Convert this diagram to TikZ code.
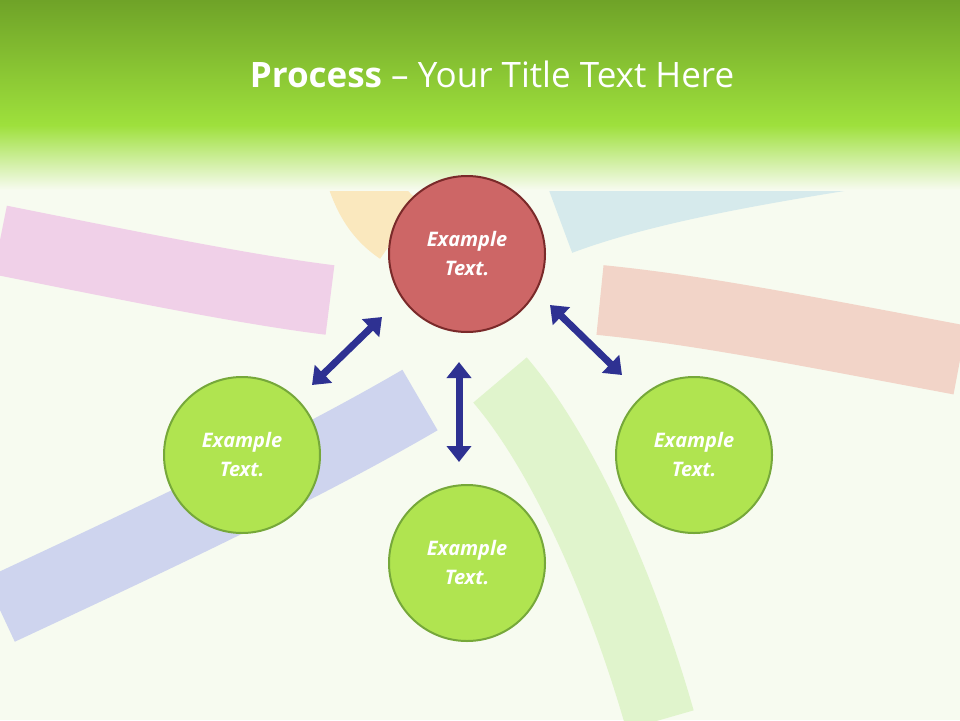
\documentclass[tikz,border=0pt]{standalone}
\usepackage{fontspec}
\setmainfont{Open Sans}
\usetikzlibrary{arrows.meta}
\definecolor{navy}{HTML}{2E3192}
\definecolor{gfill}{HTML}{B0E450}
\definecolor{gline}{HTML}{76A83A}
\definecolor{rfill}{HTML}{CD6666}
\definecolor{rline}{HTML}{7A2A2A}
\definecolor{bgc}{HTML}{F7FBF0}
\definecolor{topg}{HTML}{6FA328}
\definecolor{midg}{HTML}{9EE03C}
\tikzset{
  bg/.style={line width=70pt, line cap=butt},
  gcirc/.style={circle, minimum size=156pt, fill=gfill, draw=gline, line width=2pt, text=white, align=center, font=\bfseries\itshape\fontsize{20}{29}\selectfont},
  rcirc/.style={gcirc, fill=rfill, draw=rline},
  dbl/.style={navy, line width=7pt, {Triangle[length=16pt,width=24pt]}-{Triangle[length=16pt,width=24pt]}}
}
\begin{document}
\begin{tikzpicture}[x=1pt,y=-1pt]
\useasboundingbox (0,0) rectangle (960,720);
\fill[bgc] (0,0) rectangle (960,720);
% background arrows
\draw[bg, color={rgb,255:red,240;green,208;blue,232}] (0,240) .. controls (150,270) and (250,290) .. (330,300);
\draw[bg, color={rgb,255:red,250;green,232;blue,190}] (350,130) .. controls (360,180) and (370,210) .. (400,230);
\draw[bg, color={rgb,255:red,214;green,234;blue,236}] (880,150) .. controls (750,170) and (640,190) .. (560,220);
\draw[bg, color={rgb,255:red,242;green,212;blue,200}] (960,360) .. controls (800,330) and (700,310) .. (600,300);
\draw[bg, color={rgb,255:red,206;green,212;blue,238}] (0,610) .. controls (150,540) and (300,470) .. (420,400);
\draw[bg, color={rgb,255:red,224;green,244;blue,204}] (660,720) .. controls (620,580) and (560,450) .. (500,380);
% top band
\shade[top color=topg, bottom color=midg] (0,0) rectangle (960,125);
\shade[top color=midg, bottom color=bgc] (0,125) rectangle (960,190);
\node[text=white, font=\fontsize{35}{40}\selectfont] (title) at (492,74) {\textbf{Process} -- Your Title Text Here};
\node[rcirc] (c) at (467,254) {Example\\Text.};
\node[gcirc] (l) at (242,455) {Example\\Text.};
\node[gcirc] (b) at (467,563) {Example\\Text.};
\node[gcirc] (r) at (694,455) {Example\\Text.};
\coordinate (a1) at (312,385); \coordinate (a2) at (382,317);
\coordinate (b1) at (459,362); \coordinate (b2) at (459,462);
\coordinate (d1) at (550,305); \coordinate (d2) at (622,375);
\draw[dbl] (a1) -- (a2);
\draw[dbl] (b1) -- (b2);
\draw[dbl] (d1) -- (d2);
\end{tikzpicture}
\end{document}
